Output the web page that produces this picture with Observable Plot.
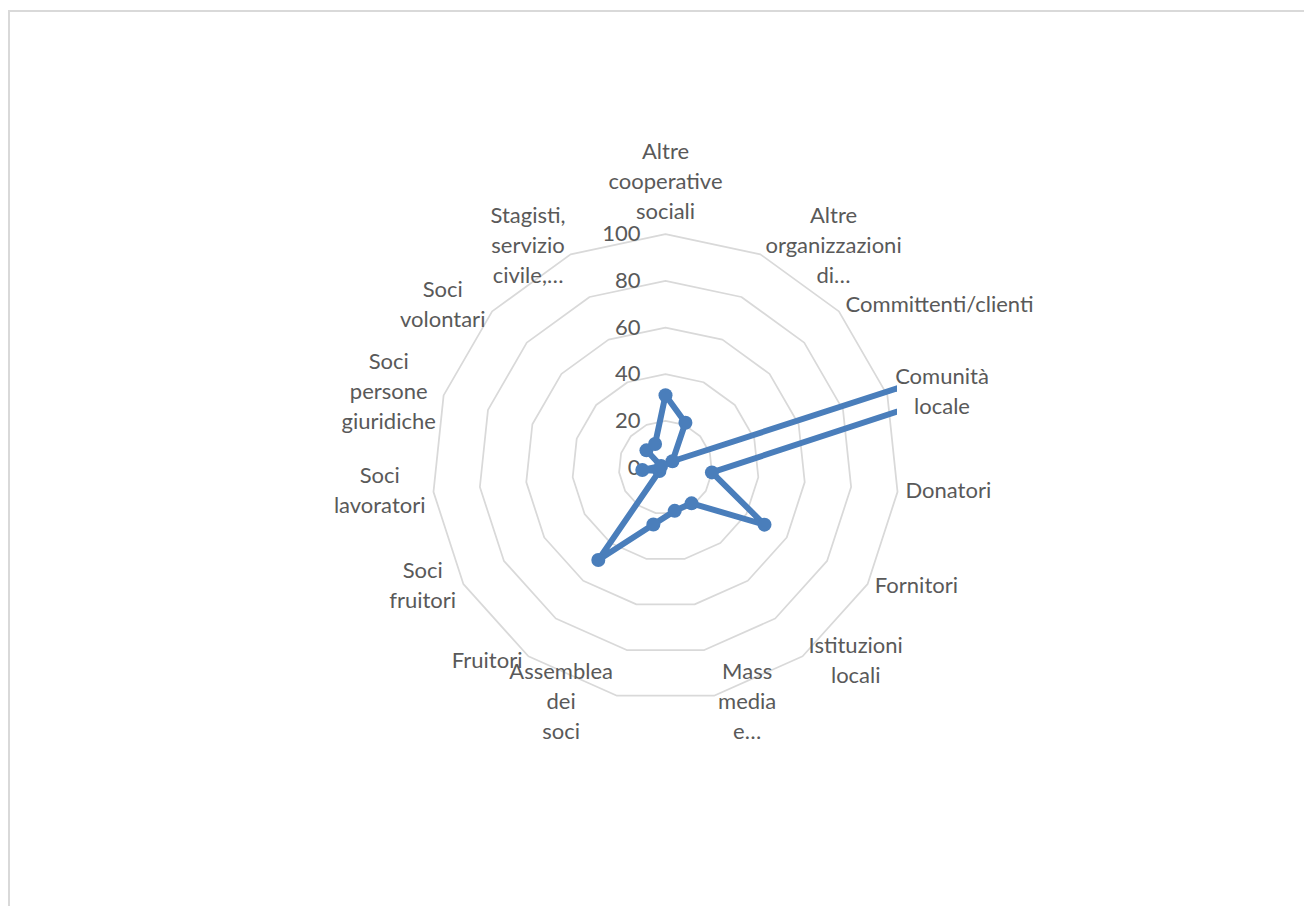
<!DOCTYPE html>
<html><head><meta charset="utf-8">
<script src="https://cdn.jsdelivr.net/npm/d3@7"></script>
<script src="https://cdn.jsdelivr.net/npm/@observablehq/plot@0.6"></script>
<style>
html,body{margin:0;padding:0;background:#fff;overflow:hidden;}
#wrap{position:relative;width:1304px;height:906px;overflow:hidden;}
#border{position:absolute;left:8px;top:10px;width:1400px;height:1000px;border-left:2px solid #d9d9d9;border-top:2px solid #d9d9d9;}
#chart{position:absolute;left:0;top:0;}
</style></head><body>
<div id="wrap"><div id="border"></div><div id="chart"></div></div>
<script>
// ---- data ----
const categories = [
  "Altre\ncooperative\nsociali",
  "Altre\norganizzazioni\ndi…",
  "Committenti/clienti",
  "Comunità\nlocale",
  "Donatori",
  "Fornitori",
  "Istituzioni\nlocali",
  "Mass\nmedia\ne…",
  "Assemblea\ndei\nsoci",
  "Fruitori",
  "Soci\nfruitori",
  "Soci\nlavoratori",
  "Soci\npersone\ngiuridiche",
  "Soci\nvolontari",
  "Stagisti,\nservizio\ncivile,…"
];
const values = [31, 21, 4, 3000, 20, 49, 19, 19, 25, 49, 3, 10, 2, 11, 11];
const ticks = [0, 20, 40, 60, 80, 100];

// ---- geometry ----
const W = 1304, H = 906;
const cx = 665, cy = 467;          // centre of the radar in pixels
const R = 233.3;                   // pixels for the value 100
const K = R / 100;                 // pixels per unit
const half = 232;                  // half size of the plot frame (clip area)
const hd = half / K;
const n = categories.length;
const ang = i => i * 2 * Math.PI / n;

const FONT = 22, LHPX = 30, FAM = "Lato";

// rings
const rings = [];
for (const t of ticks.filter(t => t > 0)) {
  for (let i = 0; i <= n; i++) {
    const a = ang(i % n);
    rings.push({level: t, x: t * Math.sin(a), y: t * Math.cos(a)});
  }
}

// series points (closed)
const pts = values.map((v, i) => ({x: v * Math.sin(ang(i)), y: v * Math.cos(ang(i))}));
const linePts = [...pts, pts[0]];

// category label placement (outside the 100 vertex)
const ctx = document.createElement("canvas").getContext("2d");
ctx.font = `${FONT}px ${FAM}`;
const labels = categories.map((c, i) => {
  const a = ang(i), s = Math.sin(a), co = Math.cos(a);
  const lines = c.split("\n");
  const w = Math.max(...lines.map(l => ctx.measureText(l).width));
  let px, py;
  if (Math.abs(s) < 1e-6) {
    px = 0; py = -(lines.length * LHPX / 2 + 8);
  } else {
    const gap = 3 + 5 * Math.abs(s);
    px = Math.sign(s) * (gap + w / 2);
    py = -2 - 7.4 * co;
  }
  py -= 2;
  return {text: c, x: 100 * s + px / K, y: 100 * co - py / K};
});

const chart = Plot.plot({
  width: W, height: H,
  marginLeft: cx - half, marginRight: W - (cx + half),
  marginTop: cy - half, marginBottom: H - (cy + half),
  x: {domain: [-hd, hd], axis: null},
  y: {domain: [-hd, hd], axis: null},
  style: {fontFamily: FAM, background: "transparent", overflow: "visible"},
  marks: [
    Plot.line(rings, {x: "x", y: "y", z: "level", stroke: "#d9d9d9", strokeWidth: 1.75}),
    Plot.text(ticks, {x: 0, y: d => d, text: d => String(d), textAnchor: "end", dx: -25,
      fontSize: FONT, fill: "#595959"}),
    Plot.text(labels, {x: "x", y: "y", text: "text", textAnchor: "middle",
      lineHeight: LHPX / FONT, fontSize: FONT, fill: "#595959"}),
    Plot.line(linePts, {x: "x", y: "y", stroke: "#4a7ebb", strokeWidth: 6,
      strokeLinejoin: "round", clip: "frame"}),
    Plot.dot(pts, {x: "x", y: "y", r: 7, fill: "#4a7ebb", clip: "frame"})
  ]
});
document.getElementById("chart").appendChild(chart);
</script>
</body></html>
